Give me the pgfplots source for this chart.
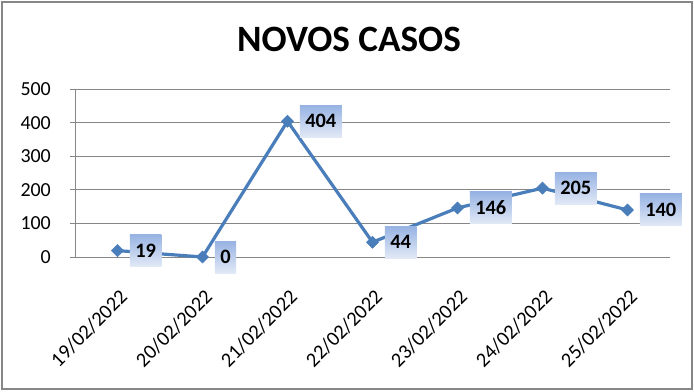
\documentclass[border=0pt]{standalone}
\usepackage{pgfplots}
\pgfplotsset{compat=1.18}
\usepackage{fontspec}
\setmainfont{Carlito}
\definecolor{frameg}{HTML}{878787}
\definecolor{gridg}{HTML}{868686}
\definecolor{lineb}{HTML}{4A7EBB}
\definecolor{lblTop}{HTML}{97B3E3}
\definecolor{lblBot}{HTML}{E2E9F6}
\begin{document}
\begin{tikzpicture}[x=1bp,y=1bp]
\useasboundingbox (0,0) rectangle (694,391);
\fill[white] (0,0) rectangle (694,391);
\draw[frameg, line width=2bp] (2,2.5) rectangle (692,389);
\node[font=\fontsize{37.3}{40}\selectfont\bfseries, anchor=base] at (349,340) {NOVOS CASOS};
\begin{axis}[
  at={(75bp,134bp)}, anchor=south west,
  scale only axis, width=595bp, height=168bp,
  xmin=0.5, xmax=7.5, ymin=0, ymax=500,
  clip=false,
  axis lines*=left,
  axis line style={gridg, line width=0.8bp},
  ytick={0,100,200,300,400,500},
  ymajorgrids,
  grid style={gridg, line width=0.8bp},
  tick style={gridg, line width=0.8bp},
  tick align=outside,
  major tick length=5bp,
  xtick={1,2,3,4,5,6,7},
  xticklabels={19/02/2022,20/02/2022,21/02/2022,22/02/2022,23/02/2022,24/02/2022,25/02/2022},
  x tick style={draw=none},
  extra x ticks={0.5,1.5,2.5,3.5,4.5,5.5,6.5,7.5},
  extra x tick labels={},
  extra x tick style={grid=none, tick style={gridg, line width=0.8bp, draw=gridg}, major tick length=6bp},
  /pgf/number format/assume math mode=true,
  ticklabel style={font=\fontsize{20}{22}\selectfont, text=black},
  yticklabel style={inner sep=0pt, xshift=-19bp},
  xticklabel style={xshift=1bp, yshift=-26bp, rotate=45, anchor=north east, inner sep=0pt, font=\fontsize{20.5}{22}\selectfont},
  nodes near coords,
  every node near coord/.append style={anchor=west, xshift=12bp, top color=lblTop, bottom color=lblBot, draw=none, text=black, font=\fontsize{20.5}{22}\selectfont\bfseries, inner xsep=5.5bp, inner ysep=0pt, minimum height=32bp, /pgf/number format/assume math mode=true},
]
\addplot[lineb, line width=3.2bp, mark=square*, mark size=4.3bp, mark options={rotate=45, fill=lineb, draw=lineb, line width=0.5bp}] coordinates {
(1,19) (2,0) (3,404) (4,44) (5,146) (6,205) (7,140)
};
\end{axis}
\end{tikzpicture}
\end{document}
